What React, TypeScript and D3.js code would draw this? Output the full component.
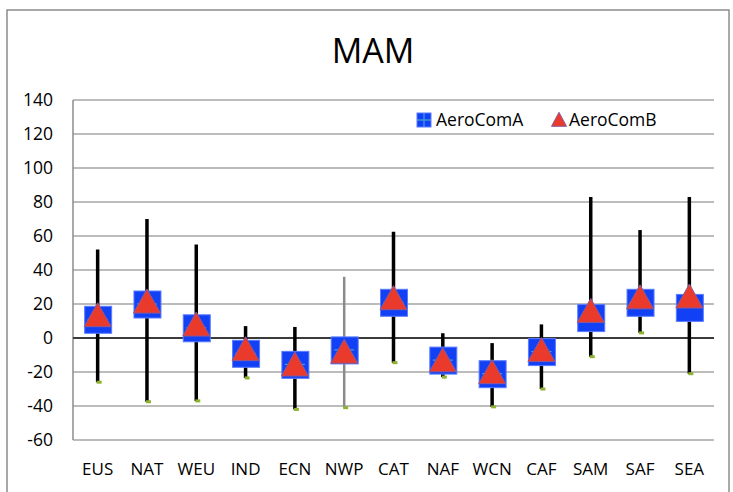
import React from "react";
import * as d3 from "d3";

const categories = ["EUS", "NAT", "WEU", "IND", "ECN", "NWP", "CAT", "NAF", "WCN", "CAF", "SAM", "SAF", "SEA"];
const aeroComA = [11, 20, 6, -9, -15.5, -7, 21, -13, -21, -8, 12, 21, 18];
const aeroComB = [13, 21, 7.5, -7, -16, -8.5, 23, -13.5, -20.5, -7.5, 15.5, 23.5, 24];
const rangeMax = [52, 70, 55, 7, 6.5, 36, 62.5, 2.8, -3, 8, 83, 63.5, 83];
const rangeMin = [-26, -37.5, -37, -23.5, -42, -41, -14.5, -23, -40.5, -30, -11, 3, -21];
const yTicks = [140, 120, 100, 80, 60, 40, 20, 0, -20, -40, -60];
const title = "MAM";
const seriesNames = ["AeroComA", "AeroComB"];

const W = 733, H = 492;
const left = 73, right = 714, top = 100, bottom = 440;
const font = "'Open Sans', 'Liberation Sans', Arial, sans-serif";

export default function App() {
  const x = d3.scaleBand().domain(categories).range([left, right]);
  const y = d3.scaleLinear().domain([-60, 140]).range([bottom, top]);
  const bw = x.bandwidth();
  const sq = 26;
  const tri = (cx: number, cy: number, w: number, h: number) =>
    `M${cx},${cy - h * 0.55} L${cx + w / 2},${cy + h * 0.45} L${cx - w / 2},${cy + h * 0.45} Z`;

  return (
    <svg width={W} height={H} style={{ position: "absolute", left: 0, top: 0, background: "#fff" }}>
      <rect x={7} y={10} width={722} height={500} fill="#fff" stroke="#8c8c8c" strokeWidth={1.5} />
      <text x={373} y={63} textAnchor="middle" fontFamily={font} fontSize={34} fill="#000">{title}</text>

      {yTicks.map((t) => (
        <g key={t}>
          {t !== 0 && (
            <line x1={left} x2={right} y1={y(t)} y2={y(t)} stroke="#a6a6a6" strokeWidth={1.5} />
          )}
          <text x={53} y={y(t) + 6} textAnchor="end" fontFamily={font} fontSize={17.5} fill="#000">{t}</text>
        </g>
      ))}
      <line x1={left} x2={left} y1={top} y2={bottom} stroke="#8c8c8c" strokeWidth={1.5} />
      <line x1={left} x2={right} y1={y(0)} y2={y(0)} stroke="#3a3a3a" strokeWidth={2} />

      {categories.map((c, i) => {
        const cx = x(c)! + bw / 2;
        const gray = c === "NWP";
        return (
          <g key={c}>
            <line x1={cx} x2={cx} y1={y(rangeMax[i])} y2={y(rangeMin[i])}
              stroke={gray ? "#8a8a8a" : "#000"} strokeWidth={gray ? 2.5 : 3.5} />
            <rect x={cx - 1} y={y(rangeMin[i]) - 1.5} width={5} height={3} fill="#8db32e" />
            <rect x={cx - sq / 2} y={y(aeroComA[i]) - sq / 2} width={sq + 1} height={sq + 1}
              fill="#1240f5" stroke="#5a7cff" strokeWidth={1} />
            <line x1={cx - 10} x2={cx + 10} y1={y(aeroComA[i])} y2={y(aeroComA[i])} stroke="#4fb6c8" strokeWidth={1} />
            <path d={tri(cx, y(aeroComB[i]), 27, 24)} fill="#ea3a2c" stroke="#8a5a9a" strokeWidth={1} />
            <text x={cx} y={475} textAnchor="middle" fontFamily={font} fontSize={17} fill="#000">{c}</text>
          </g>
        );
      })}

      <rect x={417} y={113} width={14} height={14} fill="#1240f5" stroke="#5a7cff" strokeWidth={1} />
      <line x1={424} x2={424} y1={113} y2={127} stroke="#4fb6c8" strokeWidth={1} />
      <line x1={417} x2={431} y1={120} y2={120} stroke="#4fb6c8" strokeWidth={1} />
      <text x={436} y={126} fontFamily={font} fontSize={17.5} fill="#000">{seriesNames[0]}</text>
      <path d={tri(559, 120, 15, 14)} fill="#ea3a2c" stroke="#8a5a9a" strokeWidth={1} />
      <text x={569} y={126} fontFamily={font} fontSize={17.5} fill="#000">{seriesNames[1]}</text>
    </svg>
  );
}
